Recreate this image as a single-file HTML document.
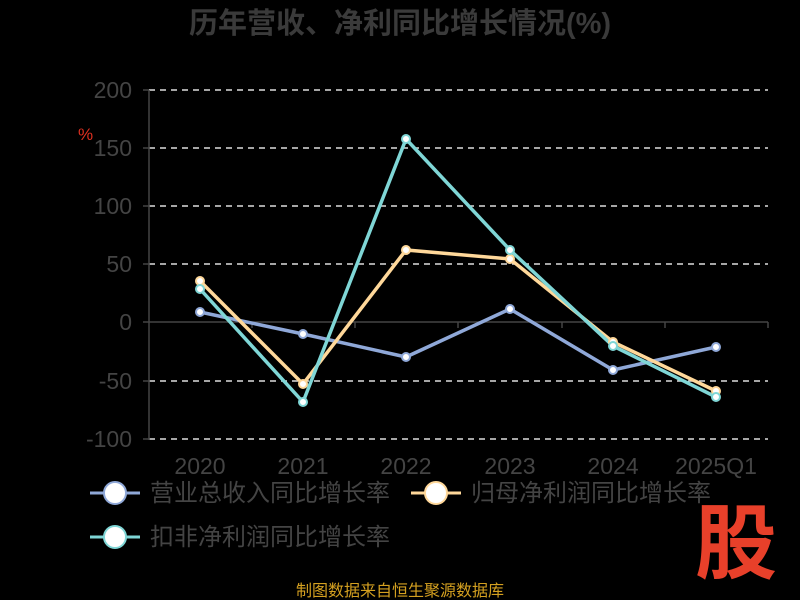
<!DOCTYPE html><html><head><meta charset="utf-8"><style>body{margin:0;background:#000}svg{display:block}</style></head><body>
<svg width="800" height="600" xmlns="http://www.w3.org/2000/svg" font-family="Liberation Sans, Noto Sans CJK SC, sans-serif">
<rect width="800" height="600" fill="#000"/>
<text x="400" y="33" text-anchor="middle" font-size="29" font-weight="bold" fill="#3a3a3a">历年营收、净利同比增长情况(%)</text>
<g stroke="#ddd" stroke-width="1.5" stroke-dasharray="6,5">
<line x1="149" y1="90" x2="768" y2="90"/><line x1="149" y1="148" x2="768" y2="148"/><line x1="149" y1="206" x2="768" y2="206"/><line x1="149" y1="264" x2="768" y2="264"/><line x1="149" y1="381" x2="768" y2="381"/><line x1="149" y1="439" x2="768" y2="439"/></g>
<g stroke="#444" stroke-width="1.5"><line x1="149" y1="90" x2="149" y2="440"/><line x1="143" y1="322" x2="768" y2="322"/>
<line x1="252" y1="322" x2="252" y2="328"/><line x1="355" y1="322" x2="355" y2="328"/><line x1="458" y1="322" x2="458" y2="328"/><line x1="562" y1="322" x2="562" y2="328"/><line x1="665" y1="322" x2="665" y2="328"/><line x1="768" y1="322" x2="768" y2="328"/>
<line x1="143" y1="90" x2="149" y2="90"/><line x1="143" y1="148" x2="149" y2="148"/><line x1="143" y1="206" x2="149" y2="206"/><line x1="143" y1="264" x2="149" y2="264"/><line x1="143" y1="381" x2="149" y2="381"/><line x1="143" y1="439" x2="149" y2="439"/></g>
<g fill="#444" font-size="23" text-anchor="end">
<text x="132" y="98">200</text><text x="132" y="156">150</text><text x="132" y="214">100</text><text x="132" y="272">50</text><text x="132" y="330">0</text><text x="132" y="389">-50</text><text x="132" y="447">-100</text></g>
<text x="78" y="140" fill="#e03020" font-size="17">%</text>
<g fill="#444" font-size="23" text-anchor="middle">
<text x="200" y="474">2020</text><text x="303" y="474">2021</text><text x="406" y="474">2022</text><text x="510" y="474">2023</text><text x="613" y="474">2024</text><text x="716" y="474">2025Q1</text></g>
<polyline fill="none" stroke="#8fa8d8" stroke-width="3.5" points="200,312 303,334 406,357 510,309 613,370 716,347"/>
<polyline fill="none" stroke="#ffd89a" stroke-width="3.5" points="200,281 303,384 406,250 510,259 613,342 716,391"/>
<polyline fill="none" stroke="#7fd6d6" stroke-width="3.5" points="200,289 303,402 406,139 510,250 613,346 716,397"/>
<g fill="#fff" stroke="#8fa8d8" stroke-width="2"><circle cx="200" cy="312" r="4"/><circle cx="303" cy="334" r="4"/><circle cx="406" cy="357" r="4"/><circle cx="510" cy="309" r="4"/><circle cx="613" cy="370" r="4"/><circle cx="716" cy="347" r="4"/></g>
<g fill="#fff" stroke="#ffd89a" stroke-width="2"><circle cx="200" cy="281" r="4"/><circle cx="303" cy="384" r="4"/><circle cx="406" cy="250" r="4"/><circle cx="510" cy="259" r="4"/><circle cx="613" cy="342" r="4"/><circle cx="716" cy="391" r="4"/></g>
<g fill="#fff" stroke="#7fd6d6" stroke-width="2"><circle cx="200" cy="289" r="4"/><circle cx="303" cy="402" r="4"/><circle cx="406" cy="139" r="4"/><circle cx="510" cy="250" r="4"/><circle cx="613" cy="346" r="4"/><circle cx="716" cy="397" r="4"/></g>
<g font-size="24" fill="#444">
<line x1="90" y1="493" x2="140" y2="493" stroke="#8fa8d8" stroke-width="3"/><circle cx="115" cy="493" r="11" fill="#fff" stroke="#8fa8d8" stroke-width="2"/><text x="150" y="501">营业总收入同比增长率</text>
<line x1="411" y1="493" x2="461" y2="493" stroke="#ffd89a" stroke-width="3"/><circle cx="436" cy="493" r="11" fill="#fff" stroke="#ffd89a" stroke-width="2"/><text x="471" y="501">归母净利润同比增长率</text>
<line x1="90" y1="537" x2="140" y2="537" stroke="#7fd6d6" stroke-width="3"/><circle cx="115" cy="537" r="11" fill="#fff" stroke="#7fd6d6" stroke-width="2"/><text x="150" y="545">扣非净利润同比增长率</text></g>
<text x="736" y="572" text-anchor="middle" font-size="82" font-weight="bold" fill="#e8402a">股</text>
<text x="400" y="596" text-anchor="middle" font-size="16" fill="#d4a020">制图数据来自恒生聚源数据库</text>
</svg></body></html>
